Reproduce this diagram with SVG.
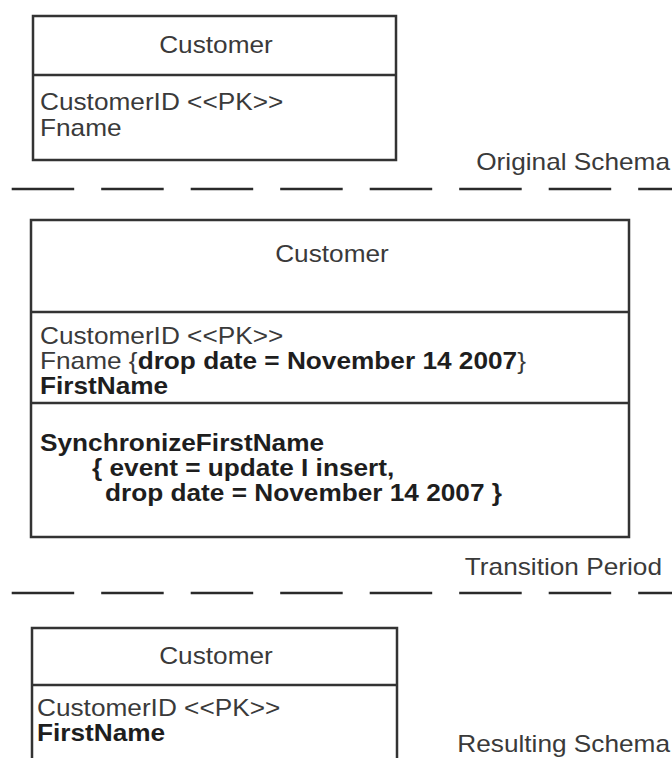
<svg xmlns="http://www.w3.org/2000/svg" width="672" height="758" viewBox="0 0 672 758">
<style>
  .box { fill: #fff; stroke: #333; stroke-width: 2.5; }
  .div { stroke: #333; stroke-width: 2.5; }
  .t { font-family: "Liberation Sans", Arial, sans-serif; font-size: 23px; fill: #3a3a3a; }
  .b { font-weight: bold; fill: #1e1e1e; }
  .dash { stroke: #2a2a2a; stroke-width: 2.7; stroke-dasharray: 62.5 27; fill: none; }
  .mid { text-anchor: middle; }
  .end { text-anchor: end; }
</style>
<rect width="672" height="758" fill="#fff"/>
<g id="separators">
  <line class="dash" x1="11.7" y1="189" x2="672" y2="189"/>
  <line class="dash" x1="11.7" y1="593" x2="672" y2="593"/>
</g>
<g id="original-schema">
  <rect class="box" x="33" y="16" width="363" height="144"/>
  <line class="div" x1="33" y1="75" x2="396" y2="75"/>
  <text class="t mid" transform="translate(216,53) scale(1.14,1)">Customer</text>
  <text class="t" transform="translate(40,110) scale(1.14,1)">CustomerID &lt;&lt;PK&gt;&gt;</text>
  <text class="t" transform="translate(40,136) scale(1.14,1)">Fname</text>
  <text class="t end" transform="translate(670,170) scale(1.14,1)">Original Schema</text>
</g>
<g id="transition-period">
  <rect class="box" x="31" y="220" width="598" height="317"/>
  <line class="div" x1="31" y1="312" x2="629" y2="312"/>
  <line class="div" x1="31" y1="403" x2="629" y2="403"/>
  <text class="t mid" transform="translate(332,262) scale(1.14,1)">Customer</text>
  <text class="t" transform="translate(40,344) scale(1.14,1)">CustomerID &lt;&lt;PK&gt;&gt;</text>
  <text class="t" transform="translate(40,369) scale(1.14,1)">Fname {<tspan class="b">drop date = November 14 2007</tspan>}</text>
  <text class="t b" transform="translate(40,394) scale(1.14,1)">FirstName</text>
  <text class="t b" transform="translate(40,451) scale(1.14,1)">SynchronizeFirstName</text>
  <text class="t b" transform="translate(92,476) scale(1.14,1)">{ event = update I insert,</text>
  <text class="t b" transform="translate(105,501) scale(1.14,1)">drop date = November 14 2007 }</text>
  <text class="t end" transform="translate(662,575) scale(1.14,1)">Transition Period</text>
</g>
<g id="resulting-schema">
  <rect class="box" x="32" y="628" width="365" height="140"/>
  <line class="div" x1="32" y1="685" x2="397" y2="685"/>
  <text class="t mid" transform="translate(216,664) scale(1.14,1)">Customer</text>
  <text class="t" transform="translate(37,716) scale(1.14,1)">CustomerID &lt;&lt;PK&gt;&gt;</text>
  <text class="t b" transform="translate(37,741) scale(1.14,1)">FirstName</text>
  <text class="t end" transform="translate(670,752) scale(1.14,1)">Resulting Schema</text>
</g>
</svg>
